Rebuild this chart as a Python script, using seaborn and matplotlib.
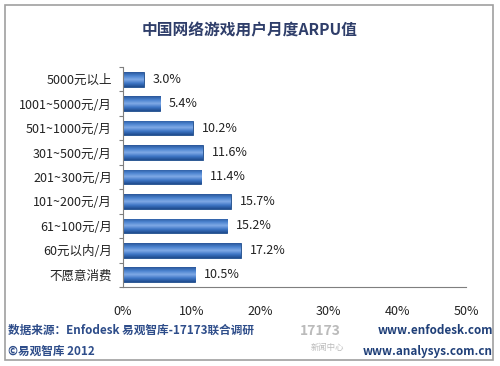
import matplotlib
matplotlib.use("Agg")
import matplotlib.pyplot as plt
import seaborn as sns
import pandas as pd
import numpy as np
from matplotlib.patches import Rectangle
from matplotlib.colors import LinearSegmentedColormap

categories = ["5000元以上", "1001~5000元/月", "501~1000元/月", "301~500元/月",
              "201~300元/月", "101~200元/月", "61~100元/月", "60元以内/月", "不愿意消费"]
values = [3.0, 5.4, 10.2, 11.6, 11.4, 15.7, 15.2, 17.2, 10.5]
xticks = [0, 10, 20, 30, 40, 50]
xtick_labels = ["0%", "10%", "20%", "30%", "40%", "50%"]
title = "中国网络游戏用户月度ARPU值"

sns.set_theme(style="white")
plt.rcParams['font.family'] = ['Noto Sans CJK SC', 'DejaVu Sans']

df = pd.DataFrame({"cat": categories, "val": values})

fig = plt.figure(figsize=(5, 3.66), dpi=100)
fig.patch.set_facecolor("white")
ax = fig.add_axes([0.246, 0.216, 0.686, 0.601])

sns.barplot(data=df, x="val", y="cat", order=categories, color="#3A72C0",
            saturation=1, width=0.6, edgecolor="#1E4C8A", linewidth=0.6, ax=ax)

ylim = ax.get_ylim()
cmap = LinearSegmentedColormap.from_list(
    "cyl", ["#2A5699", "#4A82CF", "#80AAE6", "#3E76C6", "#1F4C8E"])
grad = np.linspace(0, 1, 64).reshape(-1, 1)
for p in list(ax.patches):
    x0, y0, w, h = p.get_x(), p.get_y(), p.get_width(), p.get_height()
    im = ax.imshow(grad, cmap=cmap, aspect="auto", origin="upper",
                   extent=(x0, x0 + w, y0 + h, y0), zorder=p.get_zorder() + 0.1)
    im.set_clip_path(p)
ax.set_ylim(ylim)

for p, v in zip(ax.patches, values):
    y = p.get_y() + p.get_height() / 2
    ax.text(p.get_width() + 1.3, y, f"{v:.1f}%", va="center", ha="left",
            fontsize=9, color="#222222")

ax.set_xlim(0, 50)
ax.set_xticks(xticks)
ax.set_xticklabels(xtick_labels, fontsize=9, color="#222222")
ax.set_yticks(np.arange(len(categories) + 1) - 0.5, minor=True)
ax.tick_params(axis="x", direction="in", length=4, pad=13, color="#7F7F7F", width=0.8)
ax.tick_params(axis="y", which="major", length=0, pad=8, labelsize=9, labelcolor="#222222")
ax.tick_params(axis="y", which="minor", direction="out", length=3, color="#7F7F7F", width=0.8, left=True)
ax.set_xlabel("")
ax.set_ylabel("")
for s in ["top", "right"]:
    ax.spines[s].set_visible(False)
for s in ["left", "bottom"]:
    ax.spines[s].set_color("#7F7F7F")
    ax.spines[s].set_linewidth(0.8)

fig.text(0.5, 0.918, title, ha="center", va="center", fontsize=11.3,
         fontweight="bold", color="#2F3E6A")
fig.text(0.016, 0.098, "数据来源：Enfodesk 易观智库-17173联合调研", ha="left", va="center",
         fontsize=8.4, fontweight="bold", color="#2E4D8A")
fig.text(0.016, 0.040, "©易观智库 2012", ha="left", va="center",
         fontsize=8.4, fontweight="bold", color="#2E4D8A")
fig.text(0.986, 0.098, "www.enfodesk.com", ha="right", va="center",
         fontsize=8.4, fontweight="bold", color="#1F3F78")
fig.text(0.986, 0.040, "www.analysys.com.cn", ha="right", va="center",
         fontsize=8.4, fontweight="bold", color="#1F3F78")
fig.text(0.64, 0.095, "17173", ha="center", va="center", fontsize=10,
         fontweight="bold", color="#BBBBBB", style="italic")
fig.text(0.655, 0.05, "新闻中心", ha="center", va="center", fontsize=6,
         color="#BBBBBB")

fig.patches.append(Rectangle((0.010, 0.016), 0.976, 0.970, transform=fig.transFigure,
                             fill=False, edgecolor="#A0A0A0", linewidth=1.2))

fig.savefig("out.png", dpi=100)
